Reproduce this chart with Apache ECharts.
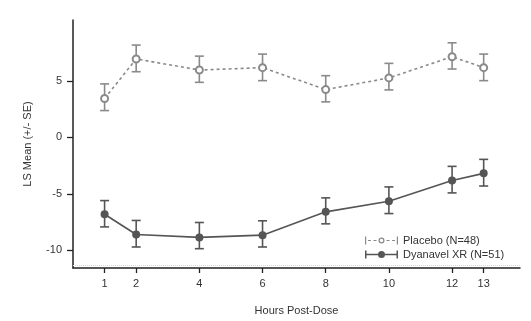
<!DOCTYPE html>
<html><head><meta charset="utf-8">
<script src="https://cdn.jsdelivr.net/npm/echarts@6/dist/echarts.min.js"></script>
<style>html,body{margin:0;padding:0;background:#fff;}#c{width:531px;height:321px;}</style>
</head><body><div id="c"></div>
<script>
const hours = [1, 2, 4, 6, 8, 10, 12, 13];
const xTicks = [1, 2, 4, 6, 8, 10, 12, 13];
const yTicks = [-10, -5, 0, 5];
const placeboMean  = [3.45, 6.95, 5.97, 6.18, 4.24, 5.27, 7.15, 6.18];
const placeboLower = [2.38, 5.82, 4.88, 5.03, 3.15, 4.21, 6.06, 5.03];
const placeboUpper = [4.74, 8.18, 7.20, 7.38, 5.47, 6.56, 8.38, 7.38];
const dyanMean  = [-6.80, -8.59, -8.85, -8.65, -6.59, -5.65, -3.82, -3.18];
const dyanLower = [-7.92, -9.70, -9.85, -9.70, -7.65, -6.74, -4.91, -4.30];
const dyanUpper = [-5.59, -7.35, -7.53, -7.38, -5.35, -4.38, -2.56, -1.94];
const names = ['Placebo (N=48)', 'Dyanavel XR (N=51)'];

const cPlac = '#8a8a8a', cDyan = '#555555';
const font = 'Liberation Sans, Arial, Helvetica, sans-serif';

function errBars(color) {
  return function (params, api) {
    const x = api.value(0), lo = api.value(1), hi = api.value(2);
    const a = api.coord([x, lo]), b = api.coord([x, hi]);
    const hw = 4.5;
    const st = { stroke: color, lineWidth: 1.6, fill: null };
    return { type: 'group', children: [
      { type: 'line', shape: { x1: a[0], y1: a[1], x2: b[0], y2: b[1] }, style: st },
      { type: 'line', shape: { x1: a[0] - hw, y1: a[1], x2: a[0] + hw, y2: a[1] }, style: st },
      { type: 'line', shape: { x1: b[0] - hw, y1: b[1], x2: b[0] + hw, y2: b[1] }, style: st }
    ]};
  };
}
const zip2 = (a, b) => a.map((v, i) => [v, b[i]]);
const zip3 = (a, b, c) => a.map((v, i) => [v, b[i], c[i]]);

const iconPlac = 'path://M0,0h1.2v8h-1.2Z M3,3.4h3v1.2h-3Z M8.5,3.4h3v1.2h-3Z M19.5,4A3,3 0 1,1 13.5,4A3,3 0 1,1 19.5,4Z M18.3,4A1.8,1.8 0 1,0 14.7,4A1.8,1.8 0 1,0 18.3,4Z M21.5,3.4h3v1.2h-3Z M27,3.4h3v1.2h-3Z M31.8,0h1.2v8h-1.2Z';
const iconDyan = 'path://M0,0h1.5v8h-1.5Z M1.5,3.2h31v1.6h-31Z M20,4A3.5,3.5 0 1,1 13,4A3.5,3.5 0 1,1 20,4Z M31.5,0h1.5v8h-1.5Z';

const chart = echarts.init(document.getElementById('c'));
chart.setOption({
  animation: false,
  backgroundColor: '#fff',
  textStyle: { fontFamily: font },
  grid: { left: 73, right: 11, top: 20, bottom: 52, containLabel: false },
  legend: {
    orient: 'vertical', left: 360, top: 230, itemWidth: 33, itemHeight: 8, itemGap: 3,
    textStyle: { fontSize: 11, color: '#333', fontFamily: font },
    data: [
      { name: names[0], icon: iconPlac, itemStyle: { color: cPlac, borderWidth: 0 } },
      { name: names[1], icon: iconDyan, itemStyle: { color: cDyan, borderWidth: 0 } }
    ]
  },
  xAxis: {
    type: 'value', min: 0, max: 14.15,
    name: 'Hours Post-Dose', nameLocation: 'middle', nameGap: 37,
    nameTextStyle: { fontSize: 11, color: '#333' },
    axisLine: { onZero: false, lineStyle: { color: '#222', width: 1.5 } },
    axisTick: { customValues: xTicks, length: 5, lineStyle: { color: '#222', width: 1.3 } },
    axisLabel: { customValues: xTicks, fontSize: 11, color: '#333', margin: 10 },
    splitLine: { show: false }
  },
  yAxis: {
    type: 'value', min: -11.56, max: 10.4,
    name: 'LS Mean (+/- SE)', nameLocation: 'middle', nameGap: 40,
    nameTextStyle: { fontSize: 11, color: '#333' },
    axisLine: { show: true, lineStyle: { color: '#222', width: 1.5 } },
    axisTick: { show: true, customValues: yTicks, length: 6, lineStyle: { color: '#222', width: 1.3 } },
    axisLabel: { customValues: yTicks, fontSize: 11, color: '#333', margin: 11 },
    splitLine: { show: false }
  },
  series: [
    { type: 'custom', name: names[0], renderItem: errBars(cPlac), data: zip3(hours, placeboLower, placeboUpper), z: 2, silent: true,
      itemStyle: { color: cPlac } },
    { type: 'custom', name: names[1], renderItem: errBars(cDyan), data: zip3(hours, dyanLower, dyanUpper), z: 2, silent: true,
      itemStyle: { color: cDyan } },
    { type: 'line', name: names[0], data: zip2(hours, placeboMean), z: 3,
      symbol: 'emptyCircle', symbolSize: 7,
      lineStyle: { color: cPlac, width: 1.6, type: [3, 3] },
      itemStyle: { color: cPlac, borderWidth: 1.5 },
      markLine: { silent: true, symbol: 'none', label: { show: false },
        lineStyle: { color: '#d8d8d8', type: 'dotted', width: 1 }, data: [{ yAxis: -11.35 }] } },
    { type: 'line', name: names[1], data: zip2(hours, dyanMean), z: 3,
      symbol: 'circle', symbolSize: 8,
      lineStyle: { color: cDyan, width: 1.6 },
      itemStyle: { color: cDyan } }
  ]
});
</script>
</body></html>
